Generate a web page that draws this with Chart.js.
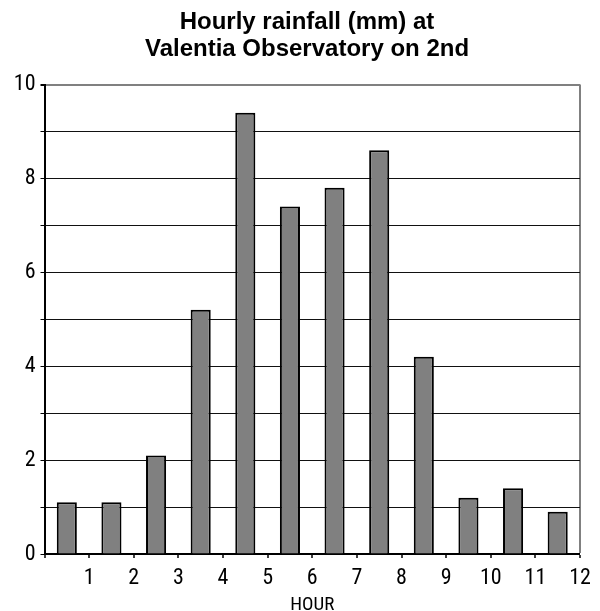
<!DOCTYPE html>
<html>
<head>
<meta charset="utf-8">
<script src="https://cdn.jsdelivr.net/npm/chart.js@4"></script>
<style>
html,body{margin:0;padding:0;background:#fff;}
#wrap{width:600px;height:611px;}
</style>
</head>
<body>
<div id="wrap"><canvas id="c" width="600" height="611"></canvas></div>
<script>
const titleLines = ["Hourly rainfall (mm) at", "Valentia Observatory on 2nd"];
const hours = ["1","2","3","4","5","6","7","8","9","10","11","12"];
const rainfall = [1.1, 1.1, 2.1, 5.2, 9.4, 7.4, 7.8, 8.6, 4.2, 1.2, 1.4, 0.9];
const xAxisTitle = "HOUR";
const yMin = 0, yMax = 10, yStep = 1, yLabelEvery = 2;

const narrow = "'Roboto Condensed', 'DejaVu Sans Condensed', sans-serif";

new Chart(document.getElementById('c'), {
  type: 'bar',
  data: {
    labels: hours,
    datasets: [{
      data: rainfall,
      backgroundColor: '#808080',
      borderColor: '#000000',
      borderWidth: 2,
      categoryPercentage: 1.0,
      barPercentage: 0.45,
      xAxisID: 'x',
      yAxisID: 'y'
    }]
  },
  options: {
    responsive: false,
    animation: false,
    devicePixelRatio: 1,
    layout: { padding: { left: 14, right: 0, top: 0, bottom: 0 } },
    plugins: {
      legend: { display: false },
      tooltip: { enabled: false },
      title: {
        display: true,
        text: titleLines,
        color: '#000',
        font: { family: "'Liberation Sans', Arial, sans-serif", size: 24, weight: 'bold', lineHeight: 1.146 },
        padding: { top: 8.5, bottom: 21 }
      }
    },
    scales: {
      x: {
        type: 'category',
        display: false,
        offset: true
      },
      xt: {
        type: 'linear',
        position: 'bottom',
        min: 0,
        max: hours.length,
        offset: false,
        ticks: {
          stepSize: 1,
          color: '#000',
          font: { family: narrow, size: 22, lineHeight: 1.2 },
          padding: 6.8,
          maxRotation: 0,
          autoSkip: false,
          callback: (v) => (v === 0 ? '' : hours[v - 1])
        },
        grid: {
          offset: false,
          drawOnChartArea: true,
          drawTicks: true,
          tickLength: 4,
          tickColor: '#000',
          tickWidth: 1.5,
          color: (ctx) => (ctx.tick && ctx.tick.value === hours.length ? '#808080' : 'rgba(0,0,0,0)'),
          lineWidth: (ctx) => (ctx.tick && ctx.tick.value === hours.length ? 2 : 0)
        },
        border: { display: true, color: '#000', width: 2 },
        title: {
          display: true,
          text: xAxisTitle,
          color: '#000',
          font: { family: narrow, size: 19, lineHeight: 1.2 },
          padding: { top: -3.8, bottom: -6 }
        }
      },
      y: {
        min: yMin,
        max: yMax,
        ticks: {
          stepSize: yStep,
          color: '#000',
          font: { family: narrow, size: 22 },
          padding: 5,
          autoSkip: false,
          callback: (v) => (v % yLabelEvery === 0 ? String(v) : '')
        },
        grid: {
          color: (ctx) => (ctx.tick && ctx.tick.value === yMax ? '#808080' : '#111'),
          lineWidth: (ctx) => (ctx.tick && ctx.tick.value === yMax ? 2 : 1),
          tickLength: 4,
          tickColor: '#000',
          drawTicks: true
        },
        border: { display: true, color: '#000', width: 2 },
        afterFit: (s) => { s.width = 30.5; }
      },
      yr: {
        position: 'right',
        min: yMin,
        max: yMax,
        ticks: { display: false },
        grid: { display: false, drawTicks: false },
        border: { display: false },
        afterFit: (s) => { s.width = 20; }
      }
    }
  }
});
</script>
</body>
</html>
